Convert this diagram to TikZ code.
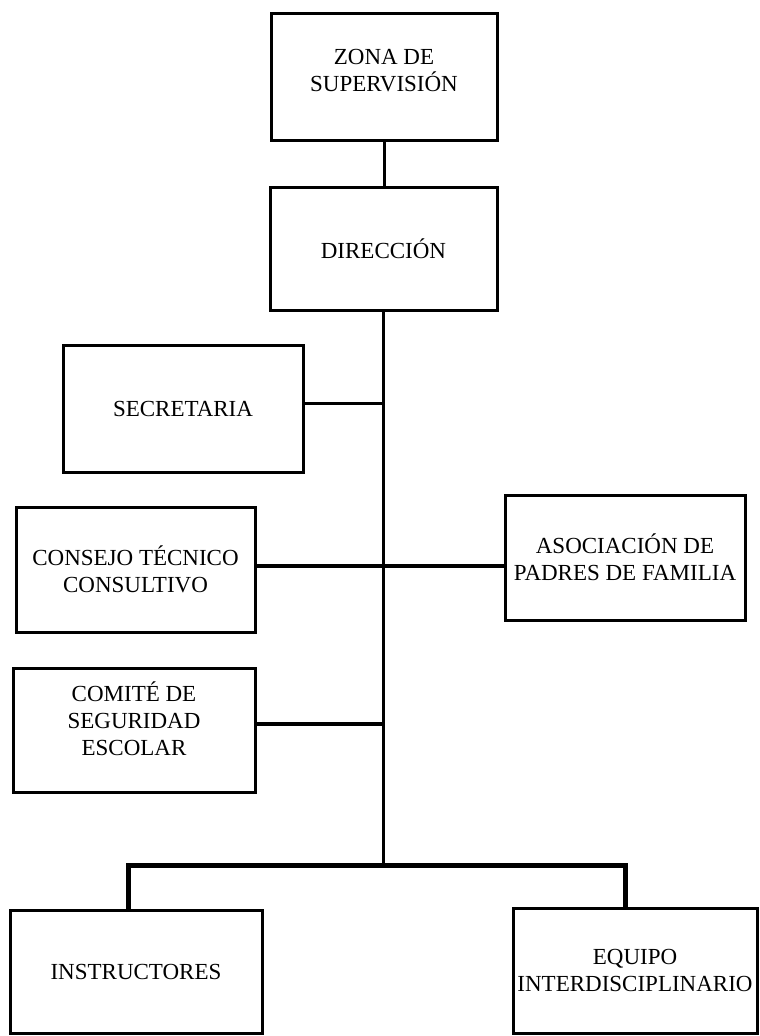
\documentclass[tikz,border=0pt]{standalone}
\usepackage{fontspec}
\setmainfont{Liberation Serif}
\begin{document}
\begin{tikzpicture}[x=1pt,y=-1pt,
  orgbox/.style={draw=black,line width=3pt,align=center,inner sep=0pt,
    font=\fontsize{23}{27}\selectfont},
  boxtext/.style={align=center,inner sep=0pt,font=\fontsize{23}{27}\selectfont},
  conn/.style={draw=black,line width=3pt},
  thick bus/.style={draw=black,line width=5pt,line join=miter}]
\useasboundingbox[fill=white] (0,0) rectangle (760,1036);
\node[orgbox,minimum width=226pt,minimum height=127pt] (zona) at (384,76.5) {};
\node[boxtext] (zonat) at (384,71) {ZONA DE\\SUPERVISIÓN};
\node[orgbox,minimum width=227pt,minimum height=123pt] (dir) at (383.5,248.5) {DIRECCIÓN};
\node[orgbox,minimum width=240pt,minimum height=127pt] (sec) at (183,408.5) {SECRETARIA};
\node[orgbox,minimum width=239pt,minimum height=125pt] (cons) at (135.5,569.5) {CONSEJO TÉCNICO\\CONSULTIVO};
\node[orgbox,minimum width=240pt,minimum height=125pt] (asoc) at (625,557.5) {ASOCIACIÓN DE\\PADRES DE FAMILIA};
\node[orgbox,minimum width=242pt,minimum height=124pt] (com) at (134,730) {};
\node[boxtext] (comt) at (134,719) {COMITÉ DE\\SEGURIDAD\\ESCOLAR};
\node[orgbox,minimum width=252pt,minimum height=123pt] (inst) at (136,971.5) {INSTRUCTORES};
\node[orgbox,minimum width=244pt,minimum height=125pt] (equ) at (635,970.5) {EQUIPO\\INTERDISCIPLINARIO};
\coordinate (bus) at (383.5,865);
\draw[conn] (zona.south) -- (zona.south |- dir.north);
\draw[conn] (dir.south) -- (dir.south |- bus);
\draw[conn] ([yshift=5pt]sec.east) -- ([yshift=5pt]sec.east -| bus);
\draw[conn,line width=4pt] ([yshift=3.5pt]cons.east) -- ([yshift=3.5pt]cons.east -| asoc.west);
\draw[conn,line width=4pt] ([yshift=6pt]com.east) -- ([yshift=6pt]com.east -| bus);
\draw[thick bus] ([xshift=-8pt]inst.north) |- (bus) -| ([xshift=-10pt]equ.north);
\end{tikzpicture}
\end{document}
